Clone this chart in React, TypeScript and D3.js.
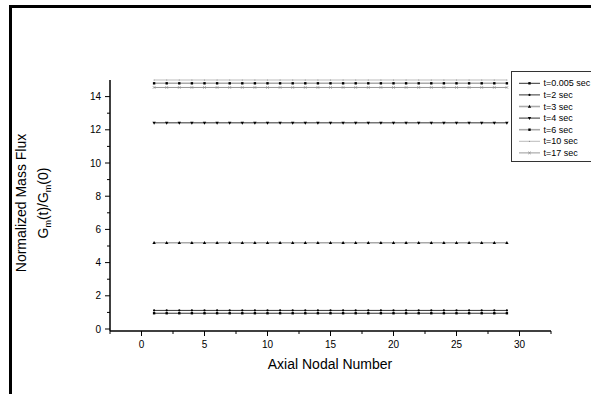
import React from 'react';
import * as d3 from 'd3';

const nodes = d3.range(1, 30);
const timeLabels = ['t=0.005 sec', 't=2 sec', 't=3 sec', 't=4 sec', 't=6 sec', 't=10 sec', 't=17 sec'];
const fluxValues = [0.95, 1.12, 5.2, 12.42, 14.8, 15.0, 14.55];
const lineColors = ['#333', '#333', '#aaa', '#333', '#aaa', '#bbb', '#999'];
const lineWidths = [1, 1, 1.6, 1, 1.6, 1, 1];
const markerKinds = ['square', 'dot', 'up', 'down', 'square', 'tiny', 'cross'];

const xTicks = [0, 5, 10, 15, 20, 25, 30];
const yTicks = [0, 2, 4, 6, 8, 10, 12, 14];

const W = 591;
const H = 394;
const font = 'Arial, "Liberation Sans", sans-serif';

const Marker: React.FC<{ kind: string; x: number; y: number }> = ({ kind, x, y }) => {
    if (kind === 'square') return <rect x={x - 1.2} y={y - 1.2} width={2.4} height={2.4} fill="#000" />;
    if (kind === 'dot') return <circle cx={x} cy={y} r={1.1} fill="#000" />;
    if (kind === 'up') return <path d={`M${x},${y - 1.8}L${x + 1.7},${y + 1.2}L${x - 1.7},${y + 1.2}Z`} fill="#000" />;
    if (kind === 'down') return <path d={`M${x},${y + 1.8}L${x + 1.7},${y - 1.2}L${x - 1.7},${y - 1.2}Z`} fill="#000" />;
    if (kind === 'tiny') return <circle cx={x} cy={y} r={0.6} fill="#888" />;
    return <path d={`M${x - 1.3},${y - 1.3}L${x + 1.3},${y + 1.3}M${x + 1.3},${y - 1.3}L${x - 1.3},${y + 1.3}`} stroke="#888" strokeWidth={0.7} />;
};

export default function App() {
    const x = d3.scaleLinear().domain([-2.5, 32.5]).range([110, 551]);
    const y = d3.scaleLinear().domain([-0.12, 15]).range([331, 80]);
    const line = d3.line<number>().x((_, i) => x(nodes[i])).y(d => y(d));

    const xMinor = d3.range(-2.5, 33, 2.5).filter(v => !xTicks.includes(v));
    const yMinor = d3.range(1, 15, 2);

    return (
        <div style={{ position: 'absolute', left: 0, top: 0 }}>
            <svg width={W} height={H} style={{ display: 'block', background: '#fff' }} fontFamily={font}>
                <rect x={0} y={0} width={W} height={H} fill="#fff" />
                {/* frame */}
                <rect x={9} y={5} width={W - 9} height={3} fill="#000" />
                <rect x={9} y={5} width={3} height={H - 5} fill="#000" />

                {/* series */}
                {fluxValues.map((v, s) => {
                    const vals = nodes.map(() => v);
                    return (
                        <g key={s}>
                            <path d={line(vals) || ''} fill="none" stroke={lineColors[s]} strokeWidth={lineWidths[s]} />
                            {vals.map((d, i) => (
                                <Marker key={i} kind={markerKinds[s]} x={x(nodes[i])} y={y(d)} />
                            ))}
                        </g>
                    );
                })}

                {/* axes */}
                <line x1={110} x2={110} y1={y(15)} y2={y(-0.12)} stroke="#000" strokeWidth={1.5} />
                <line x1={x(-2.5)} x2={x(32.5)} y1={331} y2={331} stroke="#000" strokeWidth={1.5} />
                {yTicks.map(t => (
                    <g key={t}>
                        <line x1={105} x2={110} y1={y(t)} y2={y(t)} stroke="#000" strokeWidth={1} />
                        <text x={101} y={y(t)} dy="0.35em" textAnchor="end" fontSize={10}>{t}</text>
                    </g>
                ))}
                {yMinor.map(t => (
                    <line key={t} x1={107} x2={110} y1={y(t)} y2={y(t)} stroke="#000" strokeWidth={1} />
                ))}
                {xTicks.map(t => (
                    <g key={t}>
                        <line x1={x(t)} x2={x(t)} y1={331} y2={336} stroke="#000" strokeWidth={1} />
                        <text x={x(t)} y={348} textAnchor="middle" fontSize={10}>{t}</text>
                    </g>
                ))}
                {xMinor.map(t => (
                    <line key={t} x1={x(t)} x2={x(t)} y1={331} y2={334} stroke="#000" strokeWidth={1} />
                ))}

                {/* titles */}
                <text x={330} y={369} textAnchor="middle" fontSize={14}>Axial Nodal Number</text>
                <g transform="translate(26,203) rotate(-90)">
                    <text x={0} y={0} textAnchor="middle" fontSize={14}>Normalized Mass Flux</text>
                </g>
                <g transform="translate(48,203) rotate(-90)">
                    <text x={0} y={0} textAnchor="middle" fontSize={14}>
                        G<tspan fontSize={9} dy={3}>m</tspan><tspan dy={-3}>(t)/G</tspan><tspan fontSize={9} dy={3}>m</tspan><tspan dy={-3}>(0)</tspan>
                    </text>
                </g>

                {/* legend */}
                <rect x={511.5} y={71.5} width={90} height={90} fill="#fff" stroke="#333" strokeWidth={1} />
                {timeLabels.map((lab, s) => {
                    const ly = 83.3 + s * 11.6;
                    return (
                        <g key={lab}>
                            <line x1={519} x2={540} y1={ly} y2={ly} stroke={lineColors[s]} strokeWidth={lineWidths[s]} />
                            <Marker kind={markerKinds[s]} x={529.5} y={ly} />
                            <text x={543.5} y={ly} dy="0.35em" fontSize={9}>{lab}</text>
                        </g>
                    );
                })}
            </svg>
        </div>
    );
}
